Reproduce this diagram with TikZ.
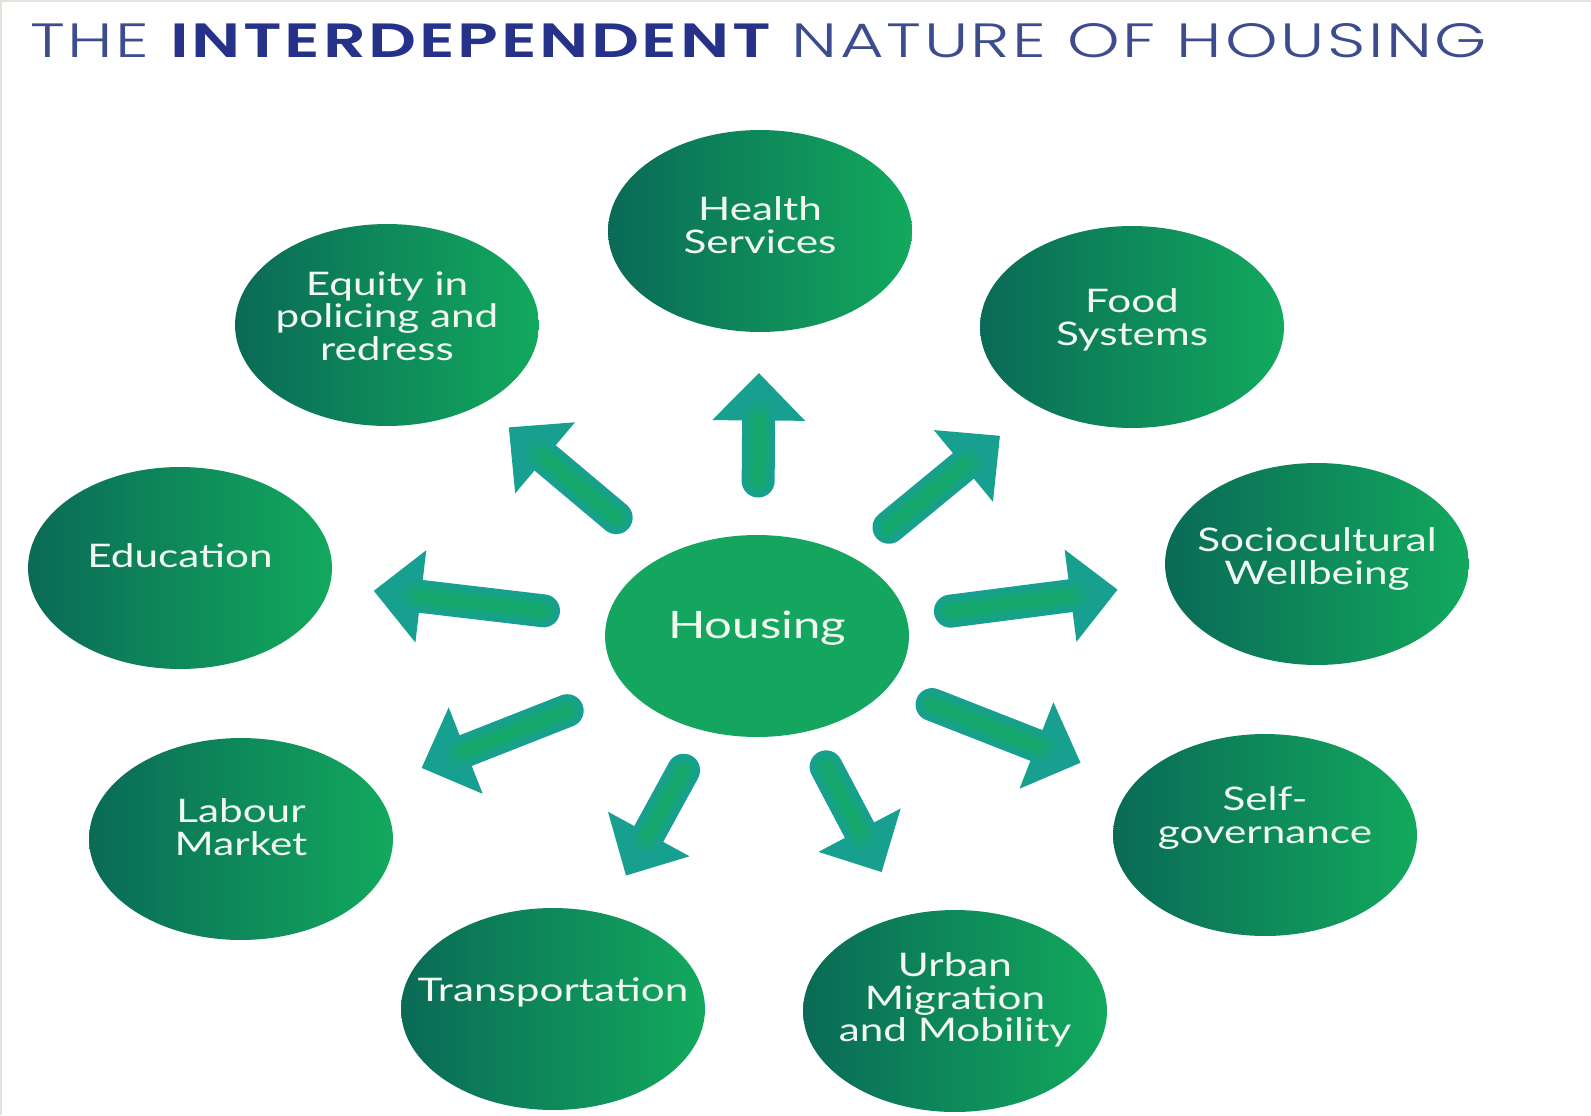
\documentclass[tikz,border=0pt]{standalone}
\usepackage{fontspec}
\usetikzlibrary{shapes.geometric,arrows.meta}

% title face: light and semibold cuts when available
\IfFontExistsTF{Poppins Light}
  {\newfontfamily\titlelight[LetterSpace=4]{Poppins Light}}
  {\newfontfamily\titlelight[LetterSpace=4]{Poppins}}
\IfFontExistsTF{Poppins SemiBold}
  {\newfontfamily\titlebold[LetterSpace=4]{Poppins SemiBold}}
  {\newfontfamily\titlebold[LetterSpace=4]{Poppins Bold}}
\newfontfamily\bubblefont[FakeStretch=1.3]{Lato}

\definecolor{titlenavy}{HTML}{26318A}
\definecolor{titleblue}{HTML}{3C4C8E}
\definecolor{bubbledark}{HTML}{0A6A57}
\definecolor{bubblelight}{HTML}{12A95D}
\definecolor{hubgreen}{HTML}{14A55F}
\definecolor{arrowteal}{HTML}{179F90}
\definecolor{arrowmidA}{HTML}{16A283}
\definecolor{arrowmidB}{HTML}{15A676}
\definecolor{arrowgreen}{HTML}{14A96A}
\definecolor{labelwhite}{HTML}{F0F8EF}
\definecolor{edgeline}{HTML}{E6E2DA}

\tikzset{
  bubble/.style={ellipse, draw=none, inner sep=0pt,
    minimum width=6.08cm, minimum height=4.04cm,
    left color=bubbledark, right color=bubblelight},
  hub/.style={ellipse, draw=none, inner sep=0pt,
    minimum width=6.08cm, minimum height=4.04cm, fill=hubgreen},
  btext/.style={text=labelwhite, align=center, inner sep=0pt,
    font=\bubblefont\fontsize{18.5}{18.5}\selectfont},
  hubtext/.style={text=labelwhite, align=center, inner sep=0pt,
    font=\bubblefont\fontsize{21.5}{24}\selectfont},
  linkbase/.style={draw=arrowteal, line width=0.66cm, line cap=round,
    -{Triangle[length=0.95cm,width=1.8cm]}},
  linkmidA/.style={draw=arrowmidA, line width=0.5cm, line cap=round},
  linkmidB/.style={draw=arrowmidB, line width=0.34cm, line cap=round},
  linkcore/.style={draw=arrowgreen, line width=0.18cm, line cap=round},
  frame/.style={draw=edgeline, line width=0.04cm}
}

\begin{document}
\begin{tikzpicture}[x=0.02cm, y=-0.02cm]
  \fill[white] (0,0) rectangle (1591,1115);
  \useasboundingbox (0,0) rectangle (1591,1115);
  \draw[frame] (1,1115) -- (1,1) -- (1591,1);

  % title
  \node[anchor=base west, inner sep=0pt] (title) at (30,58)
    {\resizebox{29.14cm}{0.68cm}{\color{titleblue}\titlelight THE\ %
      {\color{titlenavy}\titlebold INTERDEPENDENT}\ NATURE OF HOUSING}};

  % central node and the surrounding sectors
  \node[hub]    (housing)   at (757,636)  {};
  \node[bubble] (health)    at (760,231)  {};
  \node[bubble] (equity)    at (387,325)  {};
  \node[bubble] (food)      at (1132,327) {};
  \node[bubble] (socio)     at (1317,564) {};
  \node[bubble] (educ)      at (180,568)  {};
  \node[bubble] (labour)    at (241,839)  {};
  \node[bubble] (selfgov)   at (1265,835) {};
  \node[bubble] (transport) at (553,1009) {};
  \node[bubble] (urban)     at (955,1011) {};

  % labels
  \node[hubtext] (housing-t)   at ([yshift=0.16cm]housing.center)   {Housing};
  \node[btext]   (health-t)    at ([yshift=0.12cm]health.center)    {Health\\Services};
  \node[btext]   (equity-t)    at ([yshift=0.18cm]equity.center)    {Equity in\\policing and\\redress};
  \node[btext]   (food-t)      at ([yshift=0.14cm]food.center)      {Food\\Systems};
  \node[btext]   (socio-t)     at ([yshift=0.1cm]socio.center)      {Sociocultural\\Wellbeing};
  \node[btext]   (educ-t)      at ([yshift=0.24cm]educ.center)      {Education};
  \node[btext]   (labour-t)    at ([yshift=0.24cm]labour.center)    {Labour\\Market};
  \node[btext]   (selfgov-t)   at ([yshift=0.34cm]selfgov.center)   {Self-\\governance};
  \node[btext]   (transport-t) at ([yshift=0.34cm]transport.center) {Transportation};
  \node[btext]   (urban-t)     at ([yshift=0.22cm]urban.center)     {Urban\\Migration\\and Mobility};

  % arrows from the hub to each sector, shaded teal at the rim and green in the core
  \foreach \tn/\ta/\tb in {health/155/142, food/171/171, socio/195/201,
      selfgov/188/198, urban/148/157, transport/153/152, labour/204/194,
      educ/215/195, equity/184/159}{
    \draw[linkbase, shorten <=\ta*0.02cm, shorten >=\tb*0.02cm]
      (housing.center) -- (\tn.center);
    \draw[linkmidA, shorten <=\ta*0.02cm, shorten >=(\tb+40)*0.02cm]
      (housing.center) -- (\tn.center);
    \draw[linkmidB, shorten <=\ta*0.02cm, shorten >=(\tb+44)*0.02cm]
      (housing.center) -- (\tn.center);
    \draw[linkcore, shorten <=\ta*0.02cm, shorten >=(\tb+48)*0.02cm]
      (housing.center) -- (\tn.center);
  }
\end{tikzpicture}
\end{document}
